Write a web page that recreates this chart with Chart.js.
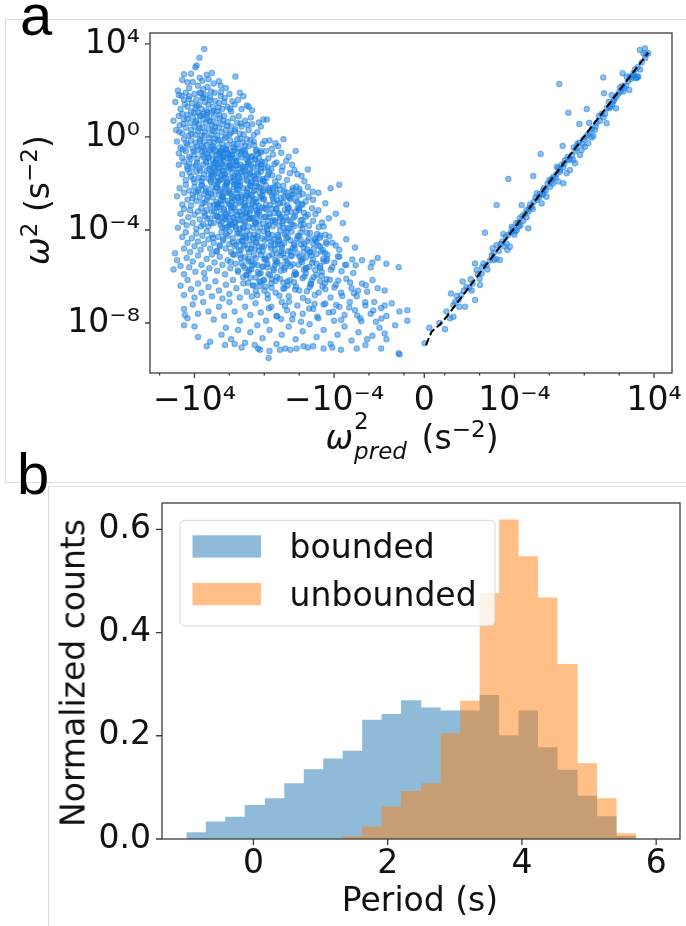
<!DOCTYPE html>
<html>
<head>
<meta charset="utf-8">
<script src="https://cdn.jsdelivr.net/npm/chart.js@4.4.1/dist/chart.umd.min.js"></script>
<style>
  html, body { margin: 0; padding: 0; background: #fff; }
  #page { position: relative; width: 686px; height: 926px; overflow: hidden; font-family: "DejaVu Sans", sans-serif; color: #111; }
  canvas { position: absolute; left: 0; }
  #chartA { top: 0; }
  #chartB { top: 470px; }
  .frame { position: absolute; border: 0 solid #dcdcdc; }
  #frameA { left: 5px; top: 19px; width: 720px; height: 462px; border-width: 1px 0 1px 1px; }
  #frameB { left: 48px; top: 486px; width: 700px; height: 500px; border-width: 1px 0 0 1px; }
  .letter { position: absolute; font-family: "Liberation Sans", Arial, sans-serif; font-size: 58px; line-height: 58px; color: #000; z-index: 3; }
  .ttl { position: absolute; font-size: 33px; line-height: 33px; white-space: nowrap; z-index: 3; }
  .ttl sup { font-size: 0.7em; line-height: 0; vertical-align: 0.5em; }
  .rot { transform: translate(-50%, -50%) rotate(-90deg); }
  .hc { transform: translate(-50%, 0); }
  .ss { position: relative; display: inline-block; width: 58px; height: 0; }
  .ss span { position: absolute; left: 1px; font-size: 23px; line-height: 23px; }
  .ss .sp { top: -39.5px; }
  .ss .sb { top: -9.5px; font-style: italic; }
</style>
</head>
<body>
<div id="page">
  <div class="frame" id="frameA"></div>
  <div class="frame" id="frameB"></div>
  <canvas id="chartA" width="686" height="470"></canvas>
  <canvas id="chartB" width="686" height="456"></canvas>

  <div class="letter" style="left:20px; top:-14px;">a</div>
  <div class="letter" style="left:17px; top:445px;">b</div>

  <div class="ttl rot" style="left:37px; top:200px;"><i>ω</i><sup>2</sup> (s<sup>−2</sup>)</div>
  <div class="ttl hc" style="left:412px; top:421px;"><i>ω</i><span class="ss"><span class="sp">2</span><span class="sb">pred</span></span> (s<sup>−2</sup>)</div>

  <div class="ttl rot" style="left:73px; top:673px;">Normalized counts</div>
  <div class="ttl hc" style="left:420px; top:883px;">Period (s)</div>
</div>

<script>
/* ── Panel a data: [log10 |ω²pred|, log10 ω²] ── */
// ω²pred < 0 (left cloud, outer parts)
const negCloud = [
  [3.44,3.78],[3.72,3.41],[3.88,3.07],[3.95,3.0],
  [4.6,2.7],[4.2,2.72],[3.3,2.68],[4.4,2.35],[4.1,2.36],[3.55,2.42],[3.2,2.48],[2.6,2.4],[1.65,2.6],[2.5,2.2],
  [3.25,2.15],[4.95,2.0],[3.0,2.75],[3.7,2.55],[4.3,2.1],[3.8,2.2],[2.9,2.3],[4.7,2.45],[3.5,2.05],[2.2,2.1],
  [5.1,1.5],[4.9,1.8],[4.8,1.2],[4.6,1.6],[4.5,1.9],[4.4,1.3],[4.3,1.75],[4.2,1.1],[4.15,1.45],[4.0,1.85],
  [3.95,1.25],[3.9,1.6],[3.8,1.05],[3.75,1.4],[3.7,1.9],[3.6,1.2],[3.55,1.65],[3.5,1.0],[3.4,1.5],[3.35,1.8],
  [3.3,1.15],[3.2,1.4],[3.1,1.7],[3.0,1.05],[2.95,1.3],[2.85,1.9],[2.8,1.55],[2.7,1.1],[2.6,1.45],[2.5,1.75],
  [2.4,1.2],[2.3,1.5],[2.1,1.3],[2.0,1.85],[1.9,1.1],[1.7,1.4],[1.5,1.6],[1.3,1.2],[1.0,1.35],[0.7,1.15],
  [0.9,1.3],[1.4,1.9],[1.2,1.75],[4.7,1.0],[3.05,1.95],
  [4.33,1.62],[3.87,1.33],[3.12,1.58],[2.64,1.27],[4.02,1.04],[3.48,1.71],[2.91,1.12],[2.27,1.67],[4.56,1.41],[3.63,1.88],
  [1.83,1.53],[2.48,1.93],[3.27,1.06],[4.74,1.77],[1.96,1.21],
  [5.2,0.7],[5.05,0.3],[4.9,0.9],[4.85,0.5],[4.7,0.15],[4.6,0.75],[4.5,0.4],[4.4,0.95],[4.35,0.05],[4.25,0.6],
  [4.2,0.3],[4.1,0.85],[4.0,0.45],[3.95,0.1],[3.9,0.7],[3.8,0.25],[3.75,0.55],[3.7,0.9],[3.6,0.05],[3.55,0.4],
  [3.5,0.75],[3.4,0.2],[3.35,0.6],[3.3,0.95],[3.2,0.35],[3.15,0.7],[3.05,0.1],[3.0,0.5],[2.9,0.85],[2.85,0.25],
  [2.75,0.6],[2.7,0.05],[2.6,0.4],[2.55,0.8],[2.45,0.2],[2.4,0.55],[2.3,0.9],[2.2,0.3],[2.1,0.65],[2.0,0.1],
  [1.9,0.45],[1.8,0.8],[1.7,0.25],[1.55,0.6],[1.4,0.15],[1.3,0.45],[1.1,0.7],[0.9,0.3],[0.7,0.55],[0.4,0.2],
  [0.05,0.75],[-0.15,0.75],[0.2,0.45],
  [4.63,0.57],[4.18,0.13],[3.71,0.36],[3.26,0.82],[2.83,0.44],[2.37,0.71],[1.92,0.18],[1.47,0.89],[0.98,0.52],[0.61,0.08],
  [4.41,0.78],[3.94,0.63],[3.43,0.07],[2.96,0.28],[2.58,0.96],[2.12,0.47],[1.66,0.33],[1.18,0.11],[0.77,0.84],[0.32,0.62],
  [3.62,0.91],[3.08,0.67],[2.21,0.02],[1.35,0.58],[4.87,0.22],
  [5.0,-0.2],[4.9,-0.7],[4.8,-0.45],[4.7,-0.9],[4.6,-0.1],[4.5,-0.6],[4.4,-0.35],[4.3,-0.85],[4.2,-0.15],[4.1,-0.5],
  [4.0,-0.75],[3.95,-0.25],[3.85,-0.95],[3.8,-0.55],[3.7,-0.1],[3.6,-0.4],[3.55,-0.8],[3.45,-0.2],[3.4,-0.6],[3.3,-0.35],
  [3.2,-0.9],[3.15,-0.05],[3.05,-0.5],[3.0,-0.75],[2.9,-0.25],[2.8,-0.6],[2.75,-0.95],[2.65,-0.15],[2.6,-0.45],[2.5,-0.7],
  [2.4,-0.3],[2.35,-0.85],[2.25,-0.05],[2.2,-0.55],[2.1,-0.35],[2.0,-0.8],[1.95,-0.15],[1.85,-0.6],[1.75,-0.3],[1.65,-0.9],
  [1.55,-0.1],[1.45,-0.5],[1.35,-0.75],[1.25,-0.25],[1.1,-0.6],[1.0,-0.1],[0.9,-0.4],[0.75,-0.85],[0.6,-0.2],[0.45,-0.55],
  [0.3,-0.9],[0.1,-0.3],[-0.1,-0.6],[-0.3,-0.15],[-0.5,-0.75],[-0.8,-0.4],[-1.1,-0.1],[-1.4,-0.85],[-1.8,-0.6],[3.5,-0.45],
  [2.95,-0.4],[2.45,-0.6],
  [4.47,-0.27],[4.06,-0.63],[3.68,-0.18],[3.29,-0.71],[2.92,-0.52],[2.53,-0.13],[2.14,-0.67],[1.76,-0.44],[1.37,-0.08],[0.97,-0.83],
  [0.58,-0.36],[0.19,-0.61],[-0.23,-0.92],[-0.64,-0.27],[4.23,-0.94],[3.86,-0.41],[3.47,-0.87],[3.11,-0.22],[2.72,-0.78],[2.36,-0.47],
  [1.97,-0.93],[1.58,-0.31],[1.19,-0.56],[0.79,-0.14],[0.38,-0.72],[-0.03,-0.17],[-0.44,-0.51],[-0.97,-0.68],[2.83,-0.07],[1.86,-0.79],
  [3.58,-0.62],[2.41,-0.91],[1.08,-0.37],[4.66,-0.54],[0.52,-0.97],
  [4.9,-1.2],[4.7,-1.6],[4.6,-1.05],[4.5,-1.85],[4.4,-1.4],[4.3,-1.15],[4.2,-1.7],[4.1,-1.3],[4.0,-1.95],[3.9,-1.5],
  [3.85,-1.1],[3.75,-1.75],[3.7,-1.35],[3.6,-1.9],[3.5,-1.2],[3.45,-1.6],[3.35,-1.05],[3.3,-1.45],[3.2,-1.8],[3.1,-1.25],
  [3.05,-1.65],[2.95,-1.0],[2.9,-1.4],[2.8,-1.9],[2.7,-1.2],[2.65,-1.55],[2.55,-1.85],[2.5,-1.1],[2.4,-1.45],[2.3,-1.7],
  [2.25,-1.25],[2.15,-1.95],[2.05,-1.5],[2.0,-1.1],[1.9,-1.75],[1.8,-1.35],[1.7,-1.6],[1.6,-1.05],[1.5,-1.9],[1.45,-1.4],
  [1.35,-1.2],[1.25,-1.7],[1.1,-1.3],[1.0,-1.85],[0.9,-1.1],[0.8,-1.55],[0.65,-1.3],[0.5,-1.8],[0.35,-1.15],[0.2,-1.5],
  [0.0,-1.9],[-0.2,-1.3],[-0.45,-1.65],[-0.7,-1.1],[-1.0,-1.45],[-1.3,-1.85],[-1.6,-1.2],[-1.9,-1.6],[-2.3,-1.9],[-2.5,-1.4],
  [-4.3,-2.05],[3.0,-1.55],[2.6,-1.35],[1.95,-1.25],
  [4.28,-1.53],[3.91,-1.22],[3.54,-1.78],[3.17,-1.37],[2.81,-1.12],[2.44,-1.63],[2.07,-1.28],[1.71,-1.86],[1.33,-1.49],[0.96,-1.17],
  [0.57,-1.72],[0.18,-1.34],[-0.21,-1.61],[-0.62,-1.92],[-1.04,-1.27],[-1.47,-1.56],[4.06,-1.81],[3.69,-1.44],[3.32,-1.09],[2.96,-1.69],
  [2.59,-1.31],[2.22,-1.76],[1.86,-1.04],[1.49,-1.67],[1.12,-1.41],[0.74,-1.93],[0.36,-1.58],[-0.03,-1.08],[-0.41,-1.38],[-0.83,-1.74],
  [-1.26,-1.03],[-1.73,-1.42],[-2.14,-1.68],[3.06,-1.94],[2.36,-1.02],[1.63,-1.23],[0.87,-1.62],[0.07,-1.81],[-0.58,-1.16],[4.42,-1.27],
  [5.0,-2.55],[4.85,-2.2],[4.7,-2.9],[4.6,-2.4],[4.5,-2.05],[4.4,-2.7],[4.3,-2.3],[4.2,-2.95],[4.1,-2.5],[4.0,-2.15],
  [3.9,-2.75],[3.8,-2.35],[3.7,-2.6],[3.6,-2.1],[3.55,-2.85],[3.45,-2.45],[3.35,-2.2],[3.3,-2.7],[3.2,-2.4],[3.1,-2.95],
  [3.0,-2.15],[2.95,-2.6],[2.85,-2.35],[2.75,-2.8],[2.7,-2.05],[2.6,-2.5],[2.5,-2.25],[2.45,-2.9],[2.35,-2.6],[2.25,-2.1],
  [2.2,-2.4],[2.1,-2.75],[2.0,-2.3],[1.95,-2.95],[1.85,-2.55],[1.75,-2.15],[1.7,-2.7],[1.6,-2.4],[1.5,-2.05],[1.4,-2.85],
  [1.3,-2.5],[1.2,-2.2],[1.1,-2.65],[1.0,-2.35],[0.9,-2.9],[0.8,-2.1],[0.7,-2.55],[0.6,-2.3],[0.45,-2.8],[0.3,-2.15],
  [0.2,-2.6],[0.05,-2.35],[-0.1,-2.9],[-0.3,-2.2],[-0.5,-2.65],[-0.7,-2.4],[-0.9,-2.85],[-1.1,-2.1],[-1.35,-2.55],[-1.6,-2.3],
  [-1.9,-2.8],[-2.2,-2.45],[-2.5,-2.15],[-2.8,-2.7],[-3.1,-2.4],[-3.5,-2.85],[-4.7,-2.9],[-3.8,-2.2],[2.4,-2.55],[1.55,-2.6],
  [4.11,-2.63],[3.76,-2.27],[3.41,-2.82],[3.06,-2.44],[2.71,-2.16],[2.36,-2.71],[2.01,-2.38],[1.66,-2.93],[1.31,-2.57],[0.96,-2.21],
  [0.61,-2.76],[0.26,-2.42],[-0.09,-2.08],[-0.44,-2.53],[-0.79,-2.87],[-1.14,-2.34],[-1.49,-2.68],[-1.84,-2.13],[-2.19,-2.91],[-2.54,-2.57],
  [3.93,-2.38],[3.58,-2.06],[3.23,-2.58],[2.88,-2.92],[2.53,-2.33],[2.18,-2.04],[1.83,-2.62],[1.48,-2.27],[1.13,-2.84],[0.78,-2.48],
  [0.43,-2.11],[0.08,-2.67],[-0.27,-2.29],[-0.62,-2.14],[-0.97,-2.61],[-1.32,-2.94],[-1.67,-2.46],[-2.02,-2.24],[-2.37,-2.78],[-2.78,-2.36],
  [1.57,-2.09],[0.52,-2.97],[-0.53,-2.78],[2.63,-2.87],[3.36,-2.32],
  [4.95,-3.9],[4.8,-3.3],[4.7,-3.65],[4.6,-3.1],[4.45,-3.8],[4.35,-3.45],[4.25,-3.15],[4.1,-3.7],[4.0,-3.35],[3.9,-3.95],
  [3.8,-3.2],[3.7,-3.55],[3.6,-3.05],[3.5,-3.75],[3.4,-3.4],[3.3,-3.15],[3.2,-3.85],[3.1,-3.5],[3.0,-3.2],[2.9,-3.7],
  [2.8,-3.4],[2.7,-3.05],[2.6,-3.6],[2.5,-3.3],[2.4,-3.9],[2.3,-3.15],[2.2,-3.55],[2.1,-3.3],[2.0,-3.8],[1.9,-3.05],
  [1.8,-3.45],[1.7,-3.7],[1.6,-3.2],[1.5,-3.55],[1.4,-3.95],[1.3,-3.35],[1.2,-3.1],[1.1,-3.65],[1.0,-3.4],[0.9,-3.85],
  [0.8,-3.15],[0.7,-3.5],[0.55,-3.75],[0.4,-3.25],[0.3,-3.6],[0.15,-3.05],[0.0,-3.45],[-0.15,-3.85],[-0.3,-3.3],[-0.5,-3.6],
  [-0.7,-3.1],[-0.9,-3.5],[-1.1,-3.9],[-1.3,-3.25],[-1.5,-3.65],[-1.75,-3.4],[-2.0,-3.05],[-2.25,-3.75],[-2.5,-3.35],[-2.8,-3.6],
  [-3.1,-3.15],[-3.4,-3.85],[-3.7,-3.5],[-4.1,-3.3],[-4.5,-3.7],[2.35,-3.45],[1.65,-3.85],[0.85,-3.3],
  [3.44,-3.27],[3.07,-3.71],[2.69,-3.42],[2.32,-3.08],[1.94,-3.63],[1.57,-3.34],[1.19,-3.87],[0.82,-3.52],[0.44,-3.16],[0.07,-3.73],
  [-0.31,-3.44],[-0.68,-3.09],[-1.06,-3.61],[-1.43,-3.93],[-1.81,-3.22],[-2.18,-3.57],[-2.56,-3.82],[-2.93,-3.31],[-3.31,-3.68],[3.26,-3.52],
  [2.88,-3.18],[2.51,-3.77],[2.13,-3.41],[1.76,-3.04],[1.38,-3.58],[1.01,-3.26],[0.63,-3.91],[0.26,-3.37],[-0.12,-3.12],[-0.49,-3.84],
  [-0.87,-3.33],[-1.24,-3.46],[-1.62,-3.76],[-1.99,-3.14],[-2.37,-3.43],[-2.74,-3.07],[-3.12,-3.88],[3.62,-3.84],[1.11,-3.02],[-0.62,-3.58],
  [2.24,-3.92],[-1.35,-3.06],[0.51,-3.67],[1.87,-3.79],[-2.08,-3.81],
  [4.7,-4.3],[4.6,-4.8],[4.5,-4.1],[4.4,-4.55],[4.25,-4.95],[4.15,-4.35],[4.0,-4.7],[3.9,-4.15],[3.8,-4.5],[3.65,-4.85],
  [3.55,-4.25],[3.45,-4.6],[3.3,-4.05],[3.2,-4.4],[3.1,-4.8],[3.0,-4.2],[2.9,-4.55],[2.75,-4.9],[2.65,-4.3],[2.55,-4.65],
  [2.45,-4.1],[2.35,-4.45],[2.2,-4.8],[2.1,-4.25],[2.0,-4.6],[1.9,-4.95],[1.8,-4.35],[1.7,-4.7],[1.55,-4.15],[1.45,-4.5],
  [1.35,-4.85],[1.2,-4.3],[1.1,-4.65],[1.0,-4.05],[0.85,-4.45],[0.75,-4.8],[0.6,-4.2],[0.45,-4.55],[0.3,-4.9],[0.15,-4.35],
  [0.0,-4.7],[-0.2,-4.15],[-0.4,-4.5],[-0.6,-4.85],[-0.8,-4.3],[-1.0,-4.65],[-1.25,-4.1],[-1.5,-4.45],[-1.75,-4.8],[-2.0,-4.25],
  [-2.3,-4.6],[-2.6,-4.95],[-2.9,-4.35],[-3.2,-4.7],[-3.5,-4.2],[-3.9,-4.55],[-4.3,-4.85],[-4.7,-4.4],[-5.2,-4.75],[5.12,-5.0],
  [2.93,-4.33],[2.56,-4.71],[2.19,-4.17],[1.82,-4.52],[1.45,-4.88],[1.08,-4.26],[0.71,-4.63],[0.34,-4.08],[-0.03,-4.42],[-0.4,-4.79],
  [-0.77,-4.21],[-1.14,-4.56],[-1.51,-4.93],[-1.88,-4.37],[-2.25,-4.74],[-2.62,-4.13],[-2.99,-4.51],[-3.36,-4.86],[-3.73,-4.28],[-4.1,-4.67],
  [2.72,-4.92],[2.35,-4.38],[1.98,-4.06],[1.61,-4.63],[1.24,-4.47],[0.87,-4.96],[0.5,-4.34],[0.13,-4.72],[-0.24,-4.18],[-0.61,-4.62],
  [-0.98,-4.91],[-1.35,-4.31],[-1.72,-4.66],[-2.09,-4.12],[-2.46,-4.48],[-2.83,-4.82],[-3.2,-4.24],[-3.57,-4.59],[-0.85,-4.43],[1.36,-4.17],
  [5.2,-5.7],[5.0,-5.3],[4.8,-5.55],[4.6,-5.9],[4.45,-5.2],[4.3,-5.6],[4.1,-5.35],[3.95,-5.8],[3.8,-5.1],[3.6,-5.5],
  [3.45,-5.85],[3.3,-5.25],[3.15,-5.65],[3.0,-5.05],[2.85,-5.4],[2.7,-5.75],[2.55,-5.15],[2.4,-5.5],[2.25,-5.9],[2.1,-5.3],
  [1.95,-5.65],[1.8,-5.05],[1.65,-5.45],[1.5,-5.8],[1.35,-5.2],[1.2,-5.55],[1.05,-5.95],[0.9,-5.35],[0.75,-5.7],[0.6,-5.1],
  [0.4,-5.5],[0.2,-5.85],[0.0,-5.25],[-0.2,-5.6],[-0.45,-5.05],[-0.7,-5.4],[-0.95,-5.75],[-1.2,-5.2],[-1.5,-5.55],[-1.8,-5.9],
  [-2.1,-5.3],[-2.4,-5.65],[-2.7,-5.1],[-3.0,-5.45],[-3.3,-5.8],[-3.6,-5.25],[-3.9,-5.6],[-4.3,-5.15],[-4.7,-5.5],[-5.1,-5.85],
  [-5.6,-5.3],[-6.1,-5.6],[-6.5,-5.2],[-7.7,-5.6],[-6.2,-5.4],[-7.0,-5.45],
  [1.93,-5.38],[1.52,-5.74],[1.11,-5.17],[0.7,-5.52],[0.29,-5.88],[-0.12,-5.31],[-0.53,-5.66],[-0.94,-5.09],[-1.35,-5.44],[-1.76,-5.81],
  [-2.17,-5.23],[-2.58,-5.58],[-2.99,-5.93],[-3.4,-5.36],[-3.81,-5.71],[-4.22,-5.14],[-4.63,-5.49],[-5.04,-5.27],[1.72,-5.06],[1.31,-5.42],
  [0.9,-5.79],[0.49,-5.21],[0.08,-5.57],[-0.33,-5.94],[-0.74,-5.34],[-1.15,-5.71],[-1.56,-5.13],[-1.97,-5.49],[-2.38,-5.86],[-2.79,-5.28],
  [-3.2,-5.63],[-3.61,-5.06],[-4.02,-5.41],[-4.43,-5.77],[-5.24,-5.52],
  [4.8,-6.4],[4.6,-6.8],[4.4,-6.15],[4.2,-6.55],[4.0,-6.9],[3.8,-6.3],[3.6,-6.7],[3.4,-6.1],[3.2,-6.45],[3.0,-6.85],
  [2.8,-6.2],[2.6,-6.6],[2.4,-6.95],[2.2,-6.35],[2.0,-6.75],[1.8,-6.15],[1.6,-6.5],[1.4,-6.9],[1.2,-6.3],[1.0,-6.65],
  [0.8,-6.05],[0.6,-6.4],[0.4,-6.8],[0.2,-6.25],[0.0,-6.6],[-0.2,-6.95],[-0.4,-6.3],[-0.65,-6.7],[-0.9,-6.1],[-1.15,-6.5],
  [-1.4,-6.85],[-1.7,-6.25],[-2.0,-6.6],[-2.3,-6.0],[-2.6,-6.45],[-2.9,-6.8],[-3.2,-6.2],[-3.5,-6.55],[-3.8,-6.9],[-4.1,-6.35],
  [-4.4,-6.7],[-4.7,-6.1],[-5.0,-6.5],[-5.3,-6.85],[-5.6,-6.3],[-5.9,-6.65],[-6.2,-6.15],[-6.5,-6.5],[-6.9,-6.6],
  [0.93,-6.27],[0.48,-6.62],[0.03,-6.14],[-0.42,-6.48],[-0.87,-6.83],[-1.32,-6.21],[-1.77,-6.56],[-2.22,-6.92],[-2.67,-6.34],[-3.12,-6.69],
  [-3.57,-6.12],[-4.02,-6.47],[-4.47,-6.84],[-4.92,-6.26],[-5.37,-6.61],[-5.82,-6.38],[0.71,-6.86],[0.26,-6.41],[-0.19,-6.77],[-0.64,-6.19],
  [-1.09,-6.53],[-2.44,-6.63],[-3.34,-6.43],[-4.24,-6.17],[-5.14,-6.72],
  [4.6,-7.4],[4.55,-7.65],[4.4,-7.8],[4.1,-7.2],[3.8,-7.6],[3.5,-7.1],[3.2,-7.5],[2.9,-7.85],[2.6,-7.3],[2.3,-7.7],
  [2.0,-7.1],[1.7,-7.5],[1.4,-7.9],[1.1,-7.3],[0.8,-7.65],[0.5,-7.15],[0.2,-7.55],[-0.1,-7.9],[-0.4,-7.3],[-0.7,-7.7],
  [-1.0,-7.1],[-1.3,-7.45],[-1.6,-7.85],[-1.9,-7.25],[-2.2,-7.6],[-2.5,-7.05],[-2.8,-7.4],[-3.1,-7.8],[-3.4,-7.2],[-3.7,-7.55],
  [-4.0,-7.9],[-4.3,-7.3],[-4.6,-7.65],[-4.9,-7.1],[-5.2,-7.45],[-5.5,-7.8],[-5.8,-7.25],[-6.1,-7.6],[-6.4,-7.95],[-6.7,-7.35],
  [-7.0,-7.7],[-7.3,-7.15],[-7.75,-7.5],[-8.2,-7.45],[-6.3,-7.1],[-6.9,-7.25],
  [-0.27,-7.36],[-0.73,-7.71],[-1.19,-7.27],[-1.65,-7.62],[-2.11,-7.94],[-2.57,-7.38],[-3.03,-7.73],[-3.49,-7.16],[-3.95,-7.51],[-4.41,-7.87],
  [-4.87,-7.33],[-5.33,-7.68],[-5.79,-7.11],[-6.25,-7.46],[-6.71,-7.81],[-1.42,-7.09],[-2.88,-7.18],[-4.12,-7.22],[-5.56,-7.92],[-0.96,-7.83],
  [4.6,-8.1],[4.0,-8.15],[3.8,-8.6],[3.1,-8.8],[2.45,-8.5],[2.2,-8.2],[1.9,-8.7],[1.5,-8.3],[1.1,-8.85],[0.8,-8.4],
  [0.4,-8.1],[0.1,-8.65],[-0.3,-8.3],[-0.7,-8.9],[-1.0,-8.5],[-1.4,-8.15],[-1.8,-8.7],[-2.2,-8.35],[-2.6,-8.05],[-3.0,-8.6],
  [-3.4,-8.3],[-3.8,-8.9],[-4.2,-8.5],[-4.6,-8.15],[-5.0,-8.75],[-5.4,-8.4],[-5.8,-8.95],[-6.2,-8.55],[-6.6,-8.2],[-7.0,-8.7],
  [-7.5,-8.1],[-8.2,-7.9],[-6.9,-8.45],[-5.9,-8.7],
  [2.25,-8.95],[1.7,-8.9],[0.55,-8.95],[0.25,-9.15],[-0.3,-9.2],[-0.25,-9.5],[-0.9,-9.15],[-1.2,-9.1],[-1.85,-9.1],[-2.25,-9.0],
  [-2.5,-9.05],[-2.8,-9.0],[-3.4,-9.1],[-4.4,-9.15],[-5.3,-9.1],[-6.7,-9.1],[-7.75,-9.35],[-7.7,-9.3],[0.35,-9.1],[1.3,-9.05],
  [3.3,-9.0],[-1.5,-9.15],[-3.9,-9.05]
];

// ω²pred < 0, the dark core of the left cloud
const negCore = [
  [3.14,-0.58],[2.87,-1.13],[2.61,-0.71],[2.33,-1.46],[2.06,-0.92],[1.78,-1.71],[1.52,-0.64],[1.24,-1.28],[0.97,-1.89],[0.69,-0.83],
  [0.42,-1.52],[0.14,-1.07],[-0.13,-1.76],[3.02,-1.62],[2.74,-0.99],[2.47,-1.84],[2.19,-0.53],[1.91,-1.37],[1.63,-1.02],[1.36,-1.93],
  [1.08,-0.74],[0.81,-1.41],[0.53,-0.97],[0.26,-1.83],[-0.02,-1.33],[2.95,-1.31],[2.68,-1.74],[2.41,-1.17],[2.13,-1.97],[1.86,-0.77],
  [1.58,-1.54],[1.31,-0.88],[1.03,-1.62],[0.76,-1.19],[0.48,-1.99],[0.21,-0.68],[-0.27,-1.51],[3.21,-0.86],[2.52,-0.62],[1.97,-1.22],
  [1.45,-1.77],[0.91,-1.06],[0.37,-1.26],[2.81,-1.48],[2.27,-1.61],[1.72,-0.56],[1.18,-1.48],[0.64,-1.68],[0.09,-1.91],[2.63,-1.93],
  [2.09,-0.73],[1.55,-1.21],[1.01,-0.96],[0.47,-0.61],[3.07,-1.87],[2.38,-0.84],[1.83,-1.91],[1.29,-0.63],[0.73,-1.97],[0.18,-1.18],
  [2.76,-2.17],[2.49,-2.73],[2.21,-3.31],[1.94,-2.44],[1.66,-3.68],[1.39,-2.09],[1.11,-2.96],[0.84,-3.52],[0.56,-2.31],[0.29,-3.17],
  [0.01,-2.67],[-0.26,-3.79],[-0.54,-2.42],[-0.81,-3.28],[-1.09,-2.83],[-1.36,-3.57],[-1.64,-2.19],[-1.91,-3.06],[-2.19,-3.94],[2.68,-3.43],
  [2.41,-2.58],[2.13,-3.86],[1.86,-2.81],[1.58,-2.27],[1.31,-3.39],[1.03,-2.54],[0.76,-3.08],[0.48,-3.71],[0.21,-2.19],[-0.07,-3.43],
  [-0.34,-2.91],[-0.62,-3.66],[-0.89,-2.27],[-1.17,-3.14],[-1.44,-2.61],[-1.72,-3.83],[-1.99,-2.52],[-2.27,-3.26],[2.59,-3.02],[2.32,-2.36],
  [2.04,-2.87],[1.77,-3.47],[1.49,-2.62],[1.22,-3.91],[0.94,-2.44],[0.67,-2.86],[0.39,-3.33],[0.12,-2.52],[-0.16,-3.97],[-0.43,-3.08],
  [-0.71,-2.69],[-0.98,-3.44],[-1.26,-2.39],[-1.53,-3.22],[-1.81,-2.74],[-2.08,-3.58],[2.44,-3.66],[2.17,-2.14],[1.89,-3.17],[1.62,-3.94],
  [1.34,-2.77],[1.07,-3.29],[0.79,-2.11],[0.52,-2.68],[0.24,-3.89],[-0.03,-3.06],[-0.31,-2.37],[-0.58,-3.27],[-0.86,-3.81],[-1.13,-2.59],
  [-1.41,-3.04],[-1.68,-3.46],[-1.96,-2.33],[2.71,-2.91],[2.26,-3.52],[1.71,-2.04],[1.16,-3.63],[0.61,-3.48],[0.06,-2.29],[-0.49,-2.18],
  [-1.04,-3.72],[-1.59,-2.48],[-2.14,-2.88],[1.97,-3.73],[1.42,-3.21],[0.87,-2.63],[0.32,-2.97],[-0.23,-3.61],[-0.78,-2.08],[-1.33,-3.92],
  [1.47,-4.12],[1.19,-4.68],[0.92,-5.24],[0.64,-4.37],[0.37,-5.81],[0.09,-4.93],[-0.18,-5.46],[-0.46,-4.21],[-0.73,-6.02],[-1.01,-4.77],
  [-1.28,-5.33],[-1.56,-4.08],[-1.83,-5.89],[-2.11,-4.62],[-2.38,-5.18],[-2.66,-6.31],[-2.93,-4.43],[-3.21,-5.56],[-3.48,-4.99],[-3.76,-6.14],
  [1.38,-5.07],[1.11,-5.63],[0.83,-4.19],[0.56,-4.84],[0.28,-6.21],[0.01,-4.06],[-0.27,-5.12],[-0.54,-5.74],[-0.82,-4.48],[-1.09,-6.27],
  [-1.37,-4.91],[-1.64,-5.47],[-1.92,-4.26],[-2.19,-6.08],[-2.47,-4.84],[-2.74,-5.41],[-3.02,-4.17],[-3.29,-5.97],[-3.57,-5.33],[1.29,-4.46],
  [1.02,-5.92],[0.74,-5.36],[0.47,-4.53],[0.19,-5.06],[-0.08,-6.44],[-0.36,-4.66],[-0.63,-5.28],[-0.91,-4.03],[-1.18,-5.61],[-1.46,-6.16],
  [-1.73,-4.58],[-2.01,-5.14],[-2.28,-5.71],[-2.56,-4.37],[-2.83,-6.03],[-3.11,-4.68],[-3.38,-5.24],[1.21,-6.03],[0.93,-4.82],[0.66,-6.38],
  [0.38,-4.28],[0.11,-5.58],[-0.17,-4.34],[-0.44,-6.12],[-0.72,-5.01],[-0.99,-5.52],[-1.27,-4.34],[-1.54,-5.09],[-1.82,-6.43],[-2.09,-4.43],
  [-2.37,-5.63],[-2.64,-4.97],[-2.92,-5.72],[-3.19,-4.33],[-3.47,-6.29],[0.86,-5.71],[0.31,-4.71],[-0.24,-5.89],[-0.79,-4.62],[-1.34,-6.39],
  [-1.89,-5.01],[-2.44,-4.12],[-2.99,-5.04],[-3.54,-4.52],[0.58,-5.46],[0.03,-6.17],[-0.52,-4.41],[-1.07,-5.02],[-1.62,-4.79],[-2.17,-5.38],
  [-2.72,-6.17],[-3.27,-4.93],[1.05,-4.34],[0.49,-6.04],[-0.06,-5.23],[-0.61,-5.51],[-1.16,-4.18],[-1.71,-5.93],[-2.26,-4.96],[-2.81,-4.58]
];

// ω²pred > 0 (right cloud)
const posCloud = [
  [-9.9,-8.87],[-8.88,-8.2],[-7.98,-8.27],[-7.69,-7.8],[-7.5,-7.73],[-7.64,-6.73],[-7.31,-6.84],[-7.5,-7.23],[-7.16,-7.3],[-6.83,-7.3],
  [-6.26,-7.01],[-6.97,-6.22],[-6.51,-6.12],[-6.26,-5.44],[-6.17,-5.72],[-5.88,-5.87],[-5.78,-5.44],[-5.97,-6.37],[-5.69,-4.12],[-5.25,-4.79],
  [-5.02,-4.65],[-5.17,-5.29],[-5.02,-2.93],[-4.64,-4.17],[-4.45,-4.58],[-4.26,-4.72],[-4.41,-4.86],[-4.83,-5.29],[-4.35,-1.81],[-4.16,-3.86],
  [-3.78,-3.69],[-3.87,-4.0],[-3.65,-3.79],[-3.21,-3.93],[-3.59,-2.93],[-3.3,-3.14],[-3.01,-3.0],[-2.92,-1.68],[-2.5,-0.73],[-2.72,-2.42],
  [-2.35,-2.28],[-2.16,-2.57],[-2.44,-2.86],[-1.96,-2.14],[-1.77,-1.71],[-1.49,-1.92],[-1.2,-1.99],[-1.39,-1.42],[-1.58,-1.28],[-1.01,-1.56],
  [-0.82,-1.42],[-1.43,2.28],[-0.91,1.04],[-1.24,-0.39],[-0.63,-0.99],[-0.53,-1.13],[-0.24,-0.78],[-0.15,-0.56],[0.04,-0.42],[-0.28,0.56],
  [0.14,1.2],[0.29,0.61],[0.42,-0.02],[0.52,0.04],[0.23,-0.27],[1.09,2.56],[1.13,1.88],[1.28,0.59],[1.44,1.23],[1.67,1.52],
  [1.82,1.23],[1.57,1.8],[2.05,2.13],[2.2,2.74],[2.43,2.59],[2.58,2.02],[2.24,1.95],[2.72,2.59],[2.81,2.74],[3.0,2.52],
  [3.1,2.59],[3.19,3.74],[3.48,3.81],[3.67,3.6],
  [-8.3,-8.0],[-7.9,-7.5],[-7.2,-7.0],[-6.9,-6.6],[-6.6,-6.5],[-6.4,-6.3],[-6.0,-6.1],[-5.6,-5.5],[-5.4,-5.3],[-5.2,-5.0],
  [-4.9,-4.9],[-4.7,-4.5],[-4.5,-4.3],[-4.2,-4.1],[-4.0,-4.2],[-3.9,-3.7],[-3.7,-3.5],[-3.5,-3.6],[-3.4,-3.3],[-3.2,-3.2],
  [-3.1,-2.9],[-2.9,-2.8],[-2.8,-2.6],[-2.6,-2.6],[-2.4,-2.5],[-2.3,-2.2],[-2.1,-2.0],[-1.9,-1.9],[-1.8,-2.0],[-1.6,-1.6],
  [-1.4,-1.5],[-1.2,-1.3],[-1.1,-1.0],[-0.9,-1.0],[-0.7,-0.8],[-0.5,-0.6],[-0.4,-0.3],[-0.1,-0.3],[0.1,0.0],[0.3,0.2],
  [0.6,0.3],[0.7,0.6],[0.9,0.7],[1.0,1.0],[1.2,1.0],[1.4,1.5],[1.6,1.4],[1.8,1.7],[1.9,1.8],[2.1,2.0],
  [2.3,2.1],[2.5,2.4],[2.7,2.5],[2.9,2.9],[3.3,3.2],[3.5,3.4],[3.4,3.6],
  [-7.4,-7.1],[-7.05,-6.8],[-6.75,-6.45],[-6.45,-6.6],[-6.1,-5.9],[-5.85,-5.6],[-5.55,-5.7],[-5.3,-5.1],[-5.05,-5.25],[-4.8,-4.6],
  [-4.6,-4.7],[-4.35,-4.2],[-4.1,-3.95],[-3.95,-4.05],[-3.75,-3.85],[-3.55,-3.4],[-3.3,-3.45],[-3.15,-3.05],[-2.95,-3.1],[-2.7,-2.7],
  [-2.55,-2.45],[-2.35,-2.45],[-2.2,-2.3],[-2.0,-1.85],[-1.85,-1.8],[-1.65,-1.75],[-1.5,-1.35],[-1.3,-1.2],[-1.15,-1.15],[-0.95,-0.85],
  [-0.8,-0.95],[-0.6,-0.45],[-0.45,-0.5],[-0.3,-0.25],[-0.05,-0.1],[0.2,0.1],[0.45,0.35],[0.65,0.45],[0.85,0.9],[1.1,0.85],
  [1.3,1.25],[1.5,1.3],[1.7,1.6],[2.0,1.9],[2.2,2.2],[2.4,2.2],[2.6,2.6],[2.85,2.65],[3.05,3.0],[3.2,2.9],
  [3.55,3.55],[2.95,2.55],[3.05,2.6]
];

// dashed guide (same log units)
const guideLine = [[-9.24,-8.95],[-8.75,-8.37],[-8.27,-8.06],[-7.89,-7.73],[3.67,3.63]];

const xMajorA = [-1e4, -1e-4, 0, 1e-4, 1e4];
const xMinorA = [-1e6, -1e2, -1, -1e-2, -1e-6, -1e-8, 1e-8, 1e-6, 1e-2, 1, 1e2];
const yMajorA = [1e-8, 1e-4, 1, 1e4];

/* ── Panel b data ── */
const binEdges = [-1.0, -0.71, -0.42, -0.13, 0.17, 0.46, 0.75, 1.04, 1.33, 1.62, 1.91, 2.20,
                  2.50, 2.79, 3.08, 3.37, 3.66, 3.95, 4.24, 4.53, 4.83, 5.12, 5.41, 5.70];
const bounded   = [0.013, 0.034, 0.043, 0.066, 0.079, 0.108, 0.135, 0.156, 0.171, 0.231, 0.242, 0.269,
                   0.255, 0.249, 0.249, 0.279, 0.201, 0.249, 0.178, 0.134, 0.084, 0.044, 0.006];
const unbounded = [0, 0, 0, 0, 0, 0, 0, 0, 0.006, 0.024, 0.063, 0.093,
                   0.108, 0.205, 0.268, 0.476, 0.619, 0.548, 0.468, 0.339, 0.147, 0.079, 0.011];
const periodTicks = [0, 2, 4, 6];
const countTicks = [0, 0.2, 0.4, 0.6];

/* ── Helpers ── */
Chart.defaults.font.family = "'DejaVu Sans', sans-serif";
Chart.defaults.color = '#111';

const SUP = {'-': '⁻', '0': '⁰', '1': '¹', '2': '²', '3': '³', '4': '⁴', '5': '⁵', '6': '⁶', '7': '⁷', '8': '⁸', '9': '⁹'};
function powLabel(v) {
  if (v === 0) return '0';
  const e = Math.round(Math.log10(Math.abs(v)));
  return (v < 0 ? '−' : '') + '10' + String(e).split('').map(c => SUP[c]).join('');
}

/* ── Symlog scale (matplotlib-like) ── */
const LIN_T = 1e-9, LIN_W = 0.17;
function symlog(v) {
  const a = Math.abs(v);
  if (a <= LIN_T) return v / LIN_T * LIN_W;
  return Math.sign(v) * (LIN_W + Math.log10(a / LIN_T));
}
function symexp(u) {
  const a = Math.abs(u);
  if (a <= LIN_W) return u / LIN_W * LIN_T;
  return Math.sign(u) * LIN_T * Math.pow(10, a - LIN_W);
}

class SymlogScale extends Chart.Scale {
  determineDataLimits() {
    this.min = this.options.min;
    this.max = this.options.max;
  }
  buildTicks() {
    const t = xMajorA.map(v => ({value: v, major: true}))
      .concat(xMinorA.map(v => ({value: v, major: false})));
    return t.sort((p, q) => p.value - q.value);
  }
  getPixelForValue(v) {
    const a = symlog(this.min), b = symlog(this.max);
    return this.getPixelForDecimal((symlog(v) - a) / (b - a));
  }
  getValueForPixel(p) {
    const a = symlog(this.min), b = symlog(this.max);
    return symexp(a + this.getDecimalForPixel(p) * (b - a));
  }
  getLabelForValue(v) { return String(v); }
}
SymlogScale.id = 'symlog';
SymlogScale.defaults = {};
Chart.register(SymlogScale);

/* ── Spines + tick marks ── */
const axesFrame = {
  id: 'axesFrame',
  afterDraw(chart, args, opts) {
    const {ctx, chartArea: a, scales} = chart;
    ctx.save();
    ctx.strokeStyle = '#3c3c3c';
    ctx.lineWidth = 1.3;
    ctx.strokeRect(a.left, a.top, a.right - a.left, a.bottom - a.top);
    ctx.beginPath();
    scales.x.ticks.forEach(t => {
      const px = scales.x.getPixelForValue(t.value);
      ctx.moveTo(px, a.bottom);
      ctx.lineTo(px, a.bottom + (t.major ? opts.majorLen : opts.minorLen));
    });
    scales.y.ticks.forEach(t => {
      const py = scales.y.getPixelForValue(t.value);
      ctx.moveTo(a.left, py);
      ctx.lineTo(a.left - opts.majorLen, py);
    });
    ctx.stroke();
    ctx.restore();
  }
};

/* ── Legend with frame (panel b) ── */
const boxLegend = {
  id: 'boxLegend',
  afterDatasetsDraw(chart) {
    const {ctx, chartArea: a} = chart;
    const x0 = a.left + 18, y0 = a.top + 17.3, w = 315, h = 105.7;
    ctx.save();
    ctx.beginPath();
    ctx.roundRect(x0, y0, w, h, 5);
    ctx.fillStyle = 'rgba(255,255,255,0.8)';
    ctx.fill();
    ctx.strokeStyle = 'rgba(204,204,204,0.8)';
    ctx.lineWidth = 1;
    ctx.stroke();
    ctx.font = "33px 'DejaVu Sans'";
    ctx.textBaseline = 'alphabetic';
    chart.data.datasets.forEach((ds, i) => {
      const top = a.top + 32.3 + i * 47.7;
      ctx.fillStyle = ds.backgroundColor;
      ctx.fillRect(a.left + 30.5, top, 68.5, 22.3);
      ctx.fillStyle = '#111';
      ctx.fillText(ds.label, a.left + 127.6, top + 22.6);
    });
    ctx.restore();
  }
};

/* ── Panel a: scatter ── */
const tickFont = {size: 33, family: "'DejaVu Sans', sans-serif"};
const PT = 'rgba(28,128,224,0.5)';
const toNeg = ([k, m]) => ({x: -Math.pow(10, k), y: Math.pow(10, m)});
const toPos = ([k, m]) => ({x: Math.pow(10, k), y: Math.pow(10, m)});

new Chart(document.getElementById('chartA'), {
  type: 'scatter',
  data: {
    datasets: [
      {
        data: guideLine.map(toPos),
        showLine: true, pointRadius: 0, borderColor: '#000', borderWidth: 2,
        borderDash: [7.5, 3.2], order: 0
      },
      {
        data: negCloud.concat(negCore).map(toNeg),
        pointRadius: 2.7, borderWidth: 1.1, backgroundColor: PT, borderColor: PT, order: 1
      },
      {
        data: posCloud.map(toPos),
        pointRadius: 2.7, borderWidth: 1.1, backgroundColor: PT, borderColor: PT, order: 1
      }
    ]
  },
  options: {
    responsive: false,
    animation: false,
    events: [],
    layout: {padding: {top: 33, right: 14, left: 0, bottom: 0}},
    plugins: {legend: {display: false}, tooltip: {enabled: false}, axesFrame: {majorLen: 5, minorLen: 2.5}},
    scales: {
      x: {
        type: 'symlog', position: 'bottom', min: -3.55e6, max: 1.07e5,
        grid: {display: false, drawTicks: false}, border: {display: false},
        ticks: {autoSkip: false, maxRotation: 0, minRotation: 0, padding: 9, font: tickFont, color: '#111',
                callback: (v, i, ticks) => ticks[i].major ? powLabel(v) : ''},
        afterFit: s => { s.height = 97; s.paddingLeft = 0; s.paddingRight = 0; }
      },
      y: {
        type: 'logarithmic', position: 'left', min: 7.1e-11, max: 2.95e4,
        grid: {display: false, drawTicks: false}, border: {display: false},
        ticks: {autoSkip: false, padding: 10, font: tickFont, color: '#111', callback: v => powLabel(v)},
        afterBuildTicks: s => { s.ticks = yMajorA.map(v => ({value: v, major: true})); s.min = 7.1e-11; s.max = 2.95e4; },
        afterFit: s => { s.width = 150; s.paddingTop = 0; s.paddingBottom = 0; }
      }
    }
  },
  plugins: [axesFrame]
});

/* ── Panel b: histograms (step fills) ── */
const stepPoints = counts => binEdges.map((e, i) => ({x: e, y: i < counts.length ? counts[i] : 0}));

new Chart(document.getElementById('chartB'), {
  type: 'line',
  data: {
    datasets: [
      {label: 'bounded', data: stepPoints(bounded), stepped: 'before', fill: 'origin',
       backgroundColor: 'rgba(31,119,180,0.5)', borderColor: 'transparent', borderWidth: 0, pointRadius: 0, order: 1},
      {label: 'unbounded', data: stepPoints(unbounded), stepped: 'before', fill: 'origin',
       backgroundColor: 'rgba(255,127,14,0.5)', borderColor: 'transparent', borderWidth: 0, pointRadius: 0, order: 0}
    ]
  },
  options: {
    responsive: false,
    animation: false,
    events: [],
    layout: {padding: {top: 33, right: 6, left: 0, bottom: 0}},
    plugins: {legend: {display: false}, tooltip: {enabled: false}, axesFrame: {majorLen: 6, minorLen: 3}},
    scales: {
      x: {
        type: 'linear', position: 'bottom', min: -1.362, max: 6.355,
        grid: {display: false, drawTicks: false}, border: {display: false},
        ticks: {autoSkip: false, maxRotation: 0, padding: 6, font: tickFont, color: '#111', callback: v => String(v)},
        afterBuildTicks: s => { s.ticks = periodTicks.map(v => ({value: v, major: true})); s.min = -1.362; s.max = 6.355; },
        afterFit: s => { s.height = 87; s.paddingLeft = 0; s.paddingRight = 0; }
      },
      y: {
        type: 'linear', position: 'left', min: 0, max: 0.651,
        grid: {display: false, drawTicks: false}, border: {display: false},
        ticks: {autoSkip: false, padding: 11, font: tickFont, color: '#111', callback: v => v.toFixed(1)},
        afterBuildTicks: s => { s.ticks = countTicks.map(v => ({value: v, major: true})); s.min = 0; s.max = 0.651; },
        afterFit: s => { s.width = 162; s.paddingTop = 0; s.paddingBottom = 0; }
      }
    }
  },
  plugins: [axesFrame, boxLegend]
});
</script>
</body>
</html>
